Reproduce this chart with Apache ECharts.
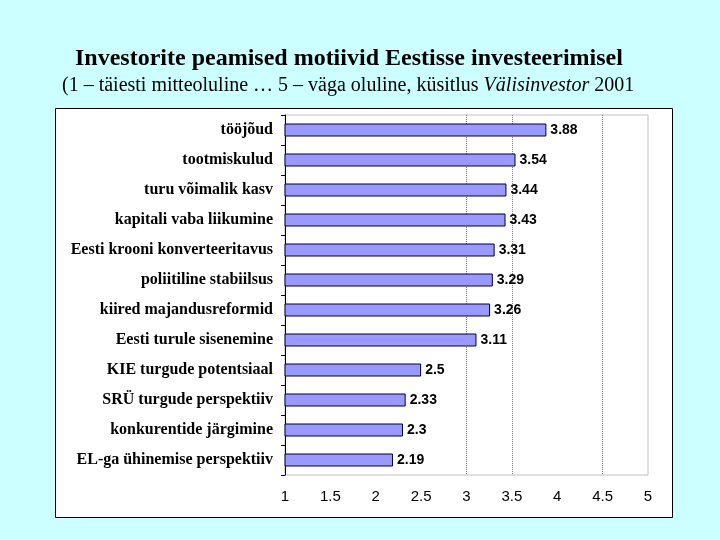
<!DOCTYPE html>
<html><head><meta charset="utf-8">
<script src="https://cdn.jsdelivr.net/npm/echarts@6/dist/echarts.min.js"></script>
<style>html,body{margin:0;padding:0;background:#CCFFFF;}#c{width:720px;height:540px;}</style>
</head><body><div id="c"></div>
<script>
const categories = ["tööjõud","tootmiskulud","turu võimalik kasv","kapitali vaba liikumine","Eesti krooni konverteeritavus","poliitiline stabiilsus","kiired majandusreformid","Eesti turule sisenemine","KIE turgude potentsiaal","SRÜ turgude perspektiiv","konkurentide järgimine","EL-ga ühinemise perspektiiv"];
const values = [3.88,3.54,3.44,3.43,3.31,3.29,3.26,3.11,2.5,2.33,2.3,2.19];
const gridValues = [3,3.5,4.5];

const chart = echarts.init(document.getElementById('c'));
chart.setOption({
  backgroundColor: '#CCFFFF',
  animation: false,
  graphic: [
    {type:'rect', shape:{x:55.5,y:108.5,width:617,height:409}, style:{fill:'#fff',stroke:'#000',lineWidth:1}, z:-10},
    {type:'text', left:75, top:47, style:{text:'Investorite peamised motiivid Eestisse investeerimisel', fontFamily:'Liberation Serif', fontWeight:'bold', fontSize:24, fill:'#000'}},
    {type:'text', left:62, top:76, style:{text:'{n|(1 – täiesti mitteoluline … 5 – väga oluline, küsitlus }{i|Välisinvestor}{n| 2001}', rich:{n:{fontFamily:'Liberation Serif', fontSize:20, fill:'#000'}, i:{fontFamily:'Liberation Serif', fontStyle:'italic', fontSize:20, fill:'#000'}}}}
  ],
  grid: {left:285, right:72, top:115, bottom:65, show:true, borderColor:'#c0c0c0', borderWidth:1, backgroundColor:'#fff'},
  xAxis: {type:'value', min:1, max:5, interval:0.5,
    axisLine:{show:false}, axisTick:{show:false}, splitLine:{show:false},
    axisLabel:{fontFamily:'Liberation Sans', fontSize:15, color:'#000', margin:14}},
  yAxis: {type:'category', data:categories, inverse:true,
    axisLine:{show:true, lineStyle:{color:'#000', width:1}},
    axisTick:{show:true, length:4, lineStyle:{color:'#000'}},
    axisLabel:{fontFamily:'Liberation Serif', fontWeight:'bold', fontSize:16, color:'#000', margin:12}},
  series: [
    {type:'bar', data:values, barWidth:13, z:2,
      itemStyle:{color:'#9999FF', borderColor:'#000033', borderWidth:1},
      label:{show:true, position:'right', distance:4, fontFamily:'Liberation Sans', fontWeight:'bold', fontSize:14, color:'#000'},
      markLine:{z:1, silent:true, symbol:'none', label:{show:false},
        lineStyle:{color:'#808080', type:'dotted', width:1},
        data: gridValues.map(v => ({xAxis:v}))}
    }
  ]
});
</script></body></html>
